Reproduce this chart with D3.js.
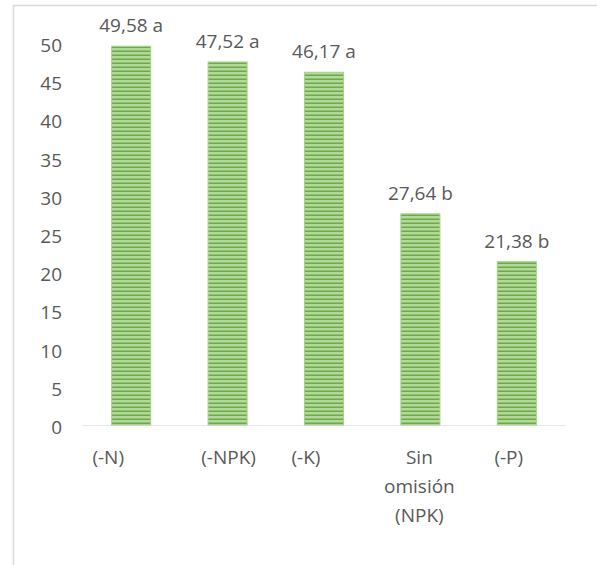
<!DOCTYPE html>
<html>
<head>
<meta charset="utf-8">
<script src="https://d3js.org/d3.v7.min.js"></script>
<style>
	body { margin: 0; background: #fff; }
	svg { display: block; font-family: "Open Sans", sans-serif; }
	.tick-label, .cat-label, .val-label { fill: #595959; font-size: 19px; }
</style>
</head>
<body>
<div id="container"></div>
<script>

// data
var categories = ["(-N)", "(-NPK)", "(-K)", "Sin omisión (NPK)", "(-P)"];
var values = [49.58, 47.52, 46.17, 27.64, 21.38];
var letters = ["a", "a", "a", "b", "b"];
var yTicks = [0, 5, 10, 15, 20, 25, 30, 35, 40, 45, 50];

// category labels in the original sit a bit off their bars
var labelShift = [-23, 1, -18, -1, -8];

var W = 597, H = 565;

var svg = d3.select("#container").append("svg")
	.attr("width", W)
	.attr("height", H);

// pattern for the striped green bars
var defs = svg.append("defs");
var pat = defs.append("pattern")
	.attr("id", "stripes")
	.attr("patternUnits", "userSpaceOnUse")
	.attr("width", 8)
	.attr("height", 4);
pat.append("rect").attr("width", 8).attr("height", 4).attr("fill", "#b2d999");
pat.append("rect").attr("y", 2.5).attr("width", 8).attr("height", 1.5).attr("fill", "#6fa84a");

// frame lines (chart is cropped: only top and left edges show)
svg.append("line")
	.attr("x1", 13).attr("x2", W).attr("y1", 5.5).attr("y2", 5.5)
	.attr("stroke", "#d9d9d9").attr("stroke-width", 1.5);
svg.append("line")
	.attr("x1", 13.5).attr("x2", 13.5).attr("y1", 5).attr("y2", H)
	.attr("stroke", "#d9d9d9").attr("stroke-width", 1.5);

var x = d3.scaleBand()
	.domain(categories)
	.range([83, 565])
	.paddingInner(0.595)
	.paddingOuter(0.2975);

var y = d3.scaleLinear()
	.domain([0, 50])
	.range([425, 43]);

// y tick labels
svg.selectAll(".tick-label")
	.data(yTicks)
	.enter().append("text")
	.attr("class", "tick-label")
	.attr("x", 62)
	.attr("y", function(d) { return y(d) + 9; })
	.attr("text-anchor", "end")
	.text(function(d) { return d; });

// baseline
svg.append("line")
	.attr("x1", x.range()[0]).attr("x2", x.range()[1])
	.attr("y1", y(0) + 0.5).attr("y2", y(0) + 0.5)
	.attr("stroke", "#e6e6e6").attr("stroke-width", 1);

// bars
svg.selectAll(".bar")
	.data(values)
	.enter().append("rect")
	.attr("class", "bar")
	.attr("x", function(d, i) { return x(categories[i]); })
	.attr("y", function(d) { return y(d); })
	.attr("width", x.bandwidth())
	.attr("height", function(d) { return y(0) - y(d); })
	.attr("fill", "url(#stripes)")
	.attr("stroke", "#a5d388")
	.attr("stroke-width", 1);

// value labels
svg.selectAll(".val-label")
	.data(values)
	.enter().append("text")
	.attr("class", "val-label")
	.attr("x", function(d, i) { return x(categories[i]) + x.bandwidth() / 2; })
	.attr("y", function(d) { return y(d) - 14; })
	.attr("text-anchor", "middle")
	.text(function(d, i) { return d.toFixed(2).replace(".", ",") + " " + letters[i]; });

// category labels, wrapped like the original
var wrapped = { "Sin omisión (NPK)": ["Sin", "omisión", "(NPK)"] };
categories.forEach(function(c, i) {
	var lines = wrapped[c] || [c];
	var t = svg.append("text")
		.attr("class", "cat-label")
		.attr("text-anchor", "middle")
		.attr("x", x(c) + x.bandwidth() / 2 + labelShift[i])
		.attr("y", 464);
	lines.forEach(function(l, j) {
		t.append("tspan")
			.attr("x", x(c) + x.bandwidth() / 2 + labelShift[i])
			.attr("dy", j === 0 ? 0 : 29)
			.text(l);
	});
});

</script>
</body>
</html>
